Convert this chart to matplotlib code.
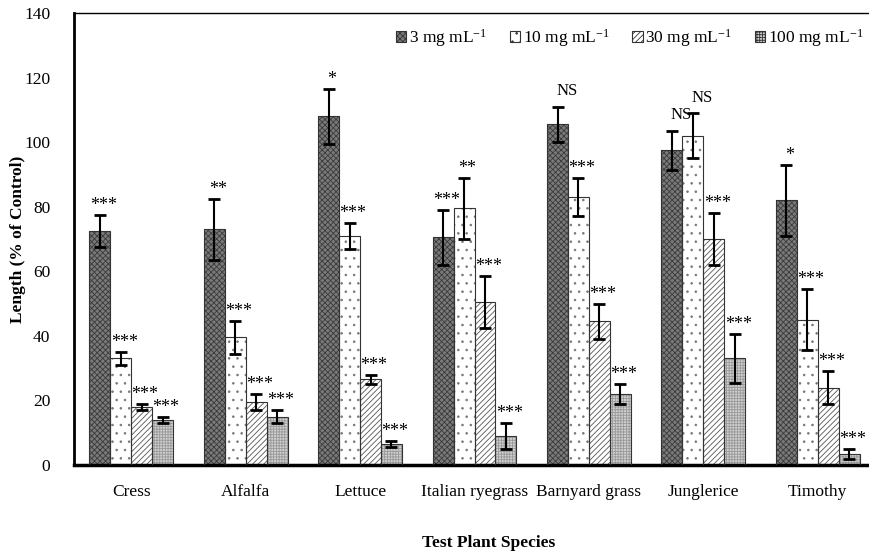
import numpy as np
import matplotlib
matplotlib.use("Agg")
import matplotlib.pyplot as plt

plt.rcParams["font.family"] = ["Liberation Serif", "DejaVu Serif"]
plt.rcParams["mathtext.fontset"] = "custom"
plt.rcParams["mathtext.rm"] = "Liberation Serif"
plt.rcParams["mathtext.it"] = "Liberation Serif:italic"
plt.rcParams["hatch.linewidth"] = 0.6

# Data
species = ["Cress", "Alfalfa", "Lettuce", "Italian ryegrass", "Barnyard grass",
           "Junglerice", "Timothy"]
doses = ["3 mg mL$^{-1}$", "10 mg mL$^{-1}$", "30 mg mL$^{-1}$", "100 mg mL$^{-1}$"]

len_3 = [72.5, 73, 108, 70.5, 105.5, 97.5, 82]
len_10 = [33, 39.5, 71, 79.5, 83, 102, 45]
len_30 = [18, 19.5, 26.5, 50.5, 44.5, 70, 24]
len_100 = [14, 15, 6.5, 9, 22, 33, 3.5]

err_3 = [5, 9.5, 8.5, 8.5, 5.5, 6, 11]
err_10 = [2, 5, 4, 9.5, 6, 7, 9.5]
err_30 = [1, 2.5, 1.5, 8, 5.5, 8, 5]
err_100 = [1, 2, 1, 4, 3, 7.5, 1.5]

sig_3 = ["***", "**", "*", "***", "NS", "NS", "*"]
sig_10 = ["***", "***", "***", "**", "***", "NS", "***"]
sig_30 = ["***", "***", "***", "***", "***", "***", "***"]
sig_100 = ["***", "***", "***", "***", "***", "***", "***"]

values = [len_3, len_10, len_30, len_100]
errors = [err_3, err_10, err_30, err_100]
sigs = [sig_3, sig_10, sig_30, sig_100]

# Styles
faces = ["#7a7a7a", "white", "white", "#d0d0d0"]
hatches = ["xxxxxx", "..", "//////", "++++++"]
hatch_cols = ["#3a3a3a", "#777777", "#555555", "#999999"]

fig = plt.figure(figsize=(8.69, 5.58), dpi=100)
ax = fig.add_axes([74 / 869, 93 / 558, 801 / 869, 452 / 558])

x = np.arange(len(species))
width = 0.183

for k in range(4):
    pos = x + (k - 1.5) * width
    ax.bar(pos, values[k], width, color=faces[k], edgecolor=hatch_cols[k],
           hatch=hatches[k], linewidth=0, zorder=2)
    ax.bar(pos, values[k], width, fill=False, edgecolor="#333333",
           linewidth=0.8, zorder=3)
    ax.errorbar(pos, values[k], yerr=errors[k], fmt="none", ecolor="black",
                elinewidth=1.5, capsize=4, capthick=2, zorder=4)
    for i in range(len(species)):
        top = values[k][i] + errors[k][i]
        s = sigs[k][i]
        if s == "NS":
            ax.text(pos[i] + 0.08, top + 2.3, s, ha="center", va="bottom",
                    fontsize=12)
        else:
            ax.text(pos[i] + 0.03, top + 0.3, s, ha="center", va="bottom",
                    fontsize=13)

ax.set_xlim(-0.5, len(species) - 0.5)
ax.set_ylim(0, 140)
ax.set_yticks(np.arange(0, 141, 20))
ax.set_xticks(x)
ax.set_xticklabels(species)
ax.tick_params(axis="both", length=0, labelsize=12.5)
ax.tick_params(axis="x", pad=14)
ax.tick_params(axis="y", pad=17)

ax.spines["left"].set_linewidth(2)
ax.spines["bottom"].set_linewidth(2.5)
ax.spines["top"].set_linewidth(1)
ax.spines["right"].set_visible(False)

fig.text(18 / 869, 1 - 239 / 558, "Length (% of Control)", fontsize=12.5,
         fontweight="bold", rotation=90, ha="center", va="center")
fig.text(489 / 869, 15 / 558, "Test Plant Species", fontsize=12.5,
         fontweight="bold", ha="center", va="center")

handles = []
for k in range(4):
    handles.append(plt.Rectangle((0, 0), 1, 1, facecolor=faces[k],
                                 edgecolor="#333333", hatch=hatches[k],
                                 linewidth=0.8))
ax.legend(handles, doses, ncol=4, frameon=False, fontsize=12.5,
          loc="upper left", bbox_to_anchor=(315 / 801, 0.985),
          handlelength=0.6, handleheight=0.6, handletextpad=0.15,
          columnspacing=1.3, borderaxespad=0)

fig.savefig("out.png", dpi=100)
